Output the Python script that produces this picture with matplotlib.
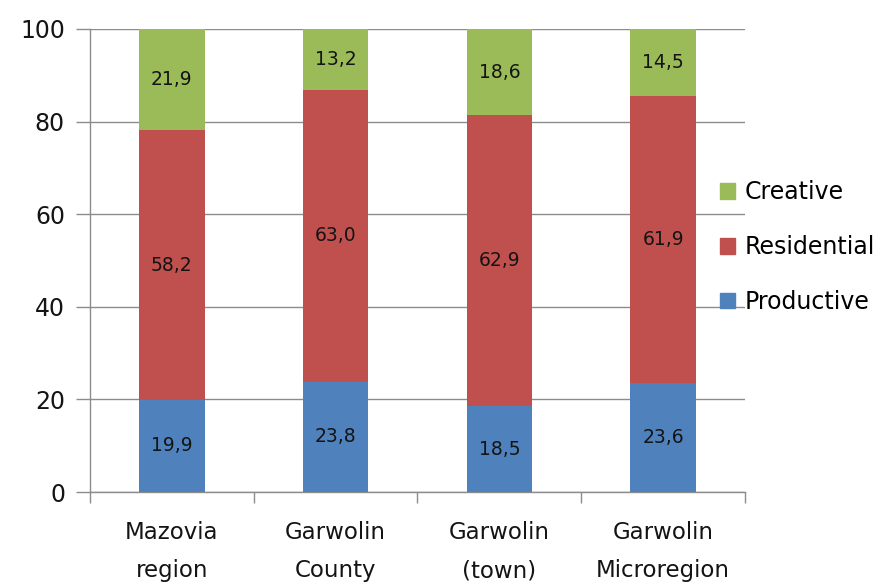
import numpy as np
import matplotlib
matplotlib.use("Agg")
import matplotlib.pyplot as plt
from matplotlib.patches import Patch

categories = ["Mazovia\nregion", "Garwolin\nCounty", "Garwolin\n(town)", "Garwolin\nMicroregion"]
productive = [19.9, 23.8, 18.5, 23.6]
residential = [58.2, 63.0, 62.9, 61.9]
creative = [21.9, 13.2, 18.6, 14.5]

C_PROD, C_RES, C_CRE = "#4F81BD", "#C0504D", "#9BBB59"
GRID = "#8c8c8c"
TXT = "#141414"

plt.rcParams["font.family"] = ["DejaVu Sans"]

fig = plt.figure(figsize=(8.92, 5.87), dpi=100)
ax = fig.add_axes([90 / 892, 95 / 587, 655 / 892, 463 / 587])

x = np.arange(len(categories))
w = 0.4
p = np.array(productive); r = np.array(residential); c = np.array(creative)
ax.bar(x, p, w, color=C_PROD, zorder=3)
ax.bar(x, r, w, bottom=p, color=C_RES, zorder=3)
ax.bar(x, c, w, bottom=p + r, color=C_CRE, zorder=3)

fmt = lambda v: f"{v:.1f}".replace(".", ",")
for i in range(len(x)):
    for y0, v in ((0, p[i]), (p[i], r[i]), (p[i] + r[i], c[i])):
        ax.text(x[i], y0 + v / 2, fmt(v), ha="center", va="center", fontsize=13.5, color=TXT, zorder=4)

ax.set_xlim(-0.5, len(categories) - 0.5)
ax.set_ylim(0, 100)
ax.set_yticks([0, 20, 40, 60, 80, 100])
ax.yaxis.grid(True, color=GRID, lw=1, zorder=0)
ax.set_xticks(np.arange(len(categories) + 1) - 0.5)
ax.set_xticklabels([])
ax.set_xticks(x, minor=True)
ax.set_xticklabels(categories, minor=True, fontsize=16.5, color=TXT, linespacing=1.85)
ax.tick_params(axis="x", which="major", length=8, color=GRID, width=1)
ax.tick_params(axis="x", which="minor", length=0, pad=21)
ax.tick_params(axis="y", length=10, color=GRID, width=1, labelsize=17, labelcolor=TXT, pad=8)
for s in ("top", "right"):
    ax.spines[s].set_visible(False)
for s in ("left", "bottom"):
    ax.spines[s].set_color(GRID)
    ax.spines[s].set_linewidth(1)

handles = [Patch(color=C_CRE, label="Creative"),
           Patch(color=C_RES, label="Residential"),
           Patch(color=C_PROD, label="Productive")]
fig.legend(handles=handles, loc="center left", bbox_to_anchor=(720 / 892, 1 - 247 / 587),
           frameon=False, fontsize=17, handlelength=0.65, handleheight=0.65,
           handletextpad=0.4, labelspacing=1.3, borderaxespad=0, borderpad=0)

fig.savefig("out.png", dpi=100)
